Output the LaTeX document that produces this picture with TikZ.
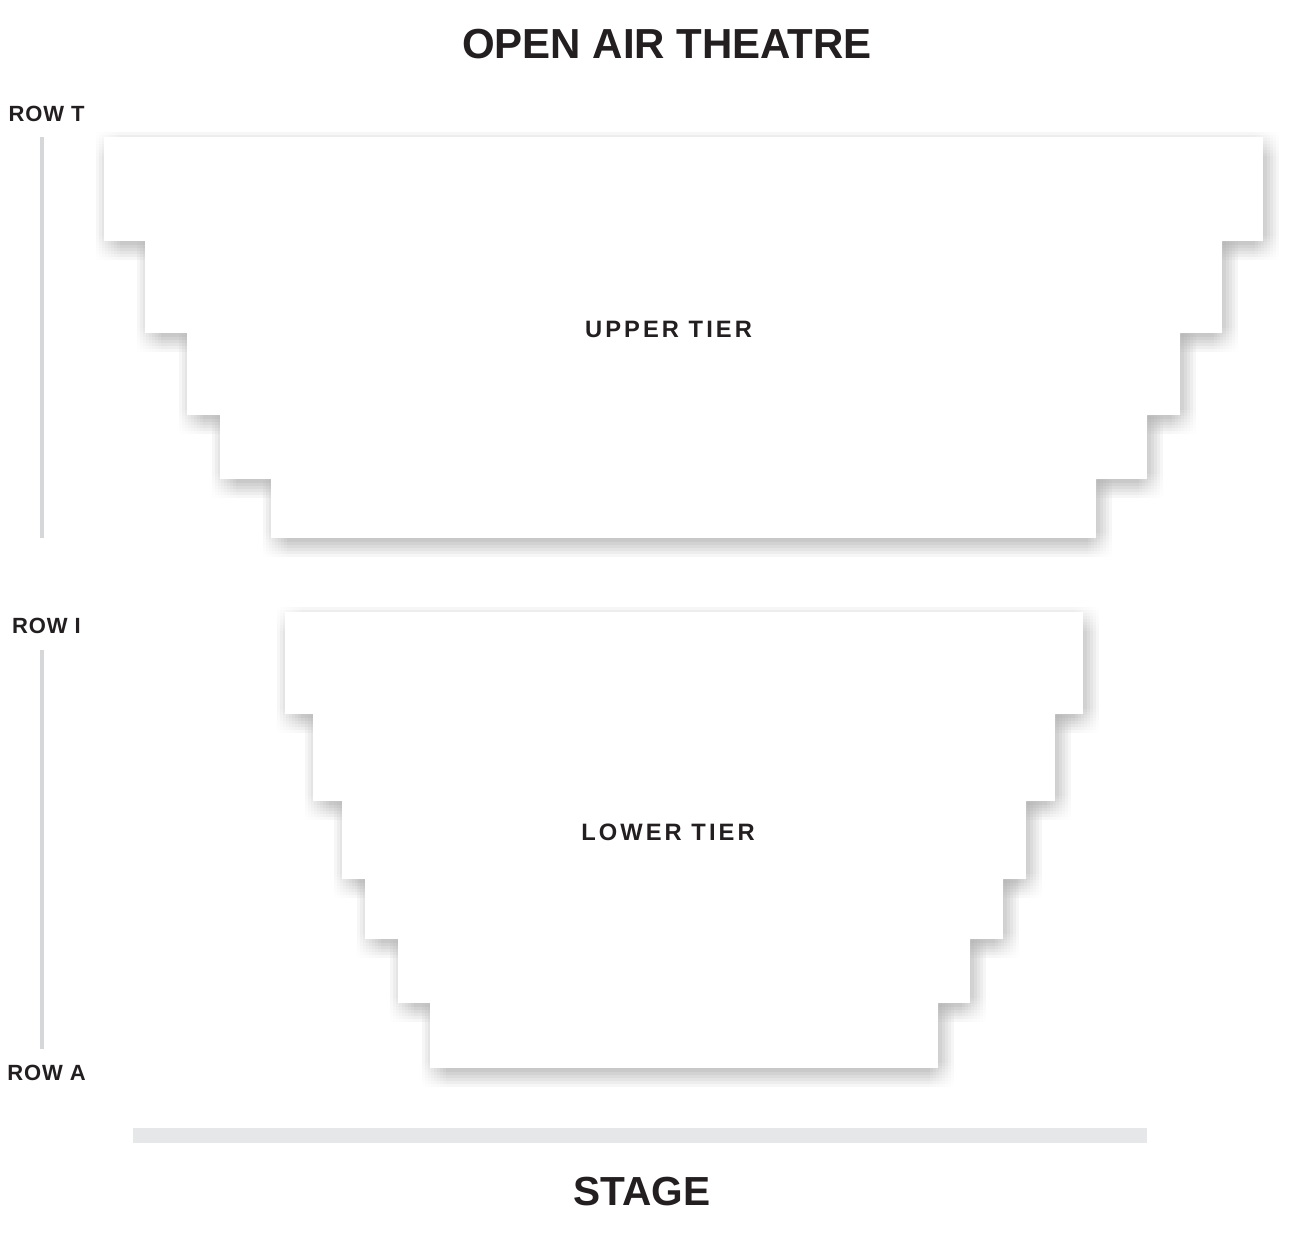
\documentclass[tikz,border=0pt]{standalone}
\usepackage{fontspec}
\setmainfont{Liberation Sans}
\newfontfamily\tierfont[LetterSpace=13]{Liberation Sans}
\newfontfamily\rowfont[LetterSpace=4]{Liberation Sans}
\usepackage{tikz}
\definecolor{inkcol}{HTML}{231F20}
\definecolor{rowlinecol}{HTML}{D6D7D9}
\definecolor{stagecol}{HTML}{E6E7E8}

\newcommand{\uppertierpath}{(104,137) -- (1263,137) -- (1263,241) -- (1222,241) -- (1222,333) -- (1180,333) -- (1180,415) -- (1147,415) -- (1147,479) -- (1096,479) -- (1096,538) -- (271,538) -- (271,479) -- (220,479) -- (220,415) -- (187,415) -- (187,333) -- (145,333) -- (145,241) -- (104,241) -- cycle}
\newcommand{\lowertierpath}{(285,612) -- (1083,612) -- (1083,714) -- (1055,714) -- (1055,801) -- (1026,801) -- (1026,879) -- (1003,879) -- (1003,939) -- (970,939) -- (970,1003) -- (938,1003) -- (938,1068) -- (430,1068) -- (430,1003) -- (398,1003) -- (398,939) -- (365,939) -- (365,879) -- (342,879) -- (342,801) -- (313,801) -- (313,714) -- (285,714) -- cycle}

\tikzset{
  shadowlayer/.style={fill=black, fill opacity=0.004},
  tierfill/.style={fill=white},
  rowline/.style={draw=rowlinecol, line width=4pt},
  titletext/.style={anchor=base, inner sep=0pt, text=inkcol, font=\bfseries\fontsize{42}{50}\selectfont},
  tierlabel/.style={anchor=base, inner sep=0pt, text=inkcol, font=\tierfont\bfseries\fontsize{23.7}{28}\selectfont},
  rowlabel/.style={anchor=base, inner sep=0pt, text=inkcol, font=\rowfont\bfseries\fontsize{22}{26}\selectfont}
}

\begin{document}
\begin{tikzpicture}[x=1pt, y=-1pt]
  \useasboundingbox[fill=white] (0,0) rectangle (1300,1234);
  % soft shadows behind both tiers
  \foreach \dx in {-8,-5,...,16}
    \foreach \dy in {-5,-2,...,19}
      {\fill[shadowlayer, shift={(\dx,\dy)}] \uppertierpath;
       \fill[shadowlayer, shift={(\dx,\dy)}] \lowertierpath;}
  \fill[tierfill] \uppertierpath;
  \fill[tierfill] \lowertierpath;
  \fill[stagecol] (133,1128) rectangle (1147,1143);
  \node[titletext] (title) at (667,58) {OPEN AIR THEATRE};
  \node[titletext, font=\bfseries\fontsize{40.6}{48}\selectfont] (stage) at (642,1205) {STAGE};
  \node[tierlabel] (upper) at (668.5,337) {UPPER TIER};
  \node[tierlabel] (lower) at (668,840) {LOWER TIER};
  \node[rowlabel] (rowT) at (46.5,121.5) {ROW T};
  \node[rowlabel] (rowI) at (46.5,633) {ROW I};
  \node[rowlabel] (rowA) at (46.5,1080) {ROW A};
  \coordinate (uppertop) at (42,137);
  \coordinate (upperend) at (42,538);
  \coordinate (lowertop) at (42,650);
  \coordinate (lowerend) at (42,1049);
  \draw[rowline] (uppertop) -- (upperend);
  \draw[rowline] (lowertop) -- (lowerend);
\end{tikzpicture}
\end{document}
